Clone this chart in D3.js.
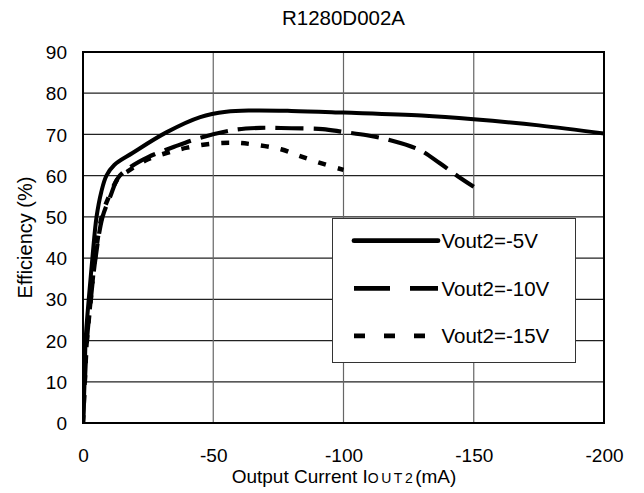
<!DOCTYPE html>
<html>
<head>
<meta charset="utf-8">
<script src="https://cdn.jsdelivr.net/npm/d3@7"></script>
<style>
  html, body { margin: 0; padding: 0; background: #fff; }
  svg { display: block; font-family: "Liberation Sans", Arial, sans-serif; }
</style>
</head>
<body>
<svg id="chart" width="644" height="493"></svg>
<script>
// ---- data ----
const chartTitle = "R1280D002A";
const xTickValues = [0, -50, -100, -150, -200];
const xTickLabels = ["0", "-50", "-100", "-150", "-200"];
const yTickValues = [0, 10, 20, 30, 40, 50, 60, 70, 80, 90];
const yTickLabels = ["0", "10", "20", "30", "40", "50", "60", "70", "80", "90"];
const seriesNames = ["Vout2=-5V", "Vout2=-10V", "Vout2=-15V"];

// output current (mA) and efficiency (%)
const current5V = [0, -0.6, -1.0, -2.2, -3.6, -5.2, -7, -9, -12, -19, -32, -45, -55, -65, -80, -100, -130, -150, -175, -200];
const eff5V     = [0, 10, 20, 30, 40, 50, 56, 60, 62.6, 65.5, 70.5, 74.2, 75.5, 75.8, 75.7, 75.3, 74.6, 73.7, 72.2, 70.2];

const current10V = [0, -0.7, -1.5, -3, -4.8, -7.5, -10.5, -13.5, -18, -25, -35, -45, -58, -68, -80, -92, -100, -109, -118, -129, -137, -144, -150];
const eff10V     = [0, 10, 20, 30, 40, 50, 55, 59.5, 62, 64.5, 67, 69.2, 71.1, 71.6, 71.5, 71.3, 70.6, 69.8, 68.6, 66.3, 63, 59.8, 57.3];

const current15V = [0, -0.7, -1.5, -3, -4.6, -7.2, -10, -14, -17, -21, -25, -32, -40, -50, -58, -65, -76, -83, -91, -100];
const eff15V     = [0, 10, 20, 30, 40, 50, 55, 59.8, 61, 62.6, 64, 65.5, 66.8, 67.8, 68, 67.6, 66.4, 64.8, 63.1, 61.4];

// ---- layout ----
const svg = d3.select("#chart");
const plot = { left: 83, right: 604, top: 52, bottom: 423 };

const x = d3.scaleLinear().domain([0, -200]).range([plot.left, plot.right]);
const y = d3.scaleLinear().domain([0, 90]).range([plot.bottom, plot.top]);

// gridlines
const grid = svg.append("g");
grid.selectAll("line.h").data(yTickValues.filter(v => v > 0 && v < 90)).enter()
  .append("line").attr("class", "h")
  .attr("x1", plot.left).attr("x2", plot.right)
  .attr("y1", d => y(d)).attr("y2", d => y(d))
  .attr("stroke", "#222").attr("stroke-width", 1.2);
grid.selectAll("line.v").data(xTickValues.filter(v => v !== 0 && v !== -200)).enter()
  .append("line").attr("class", "v")
  .attr("y1", plot.top).attr("y2", plot.bottom)
  .attr("x1", d => x(d)).attr("x2", d => x(d))
  .attr("stroke", "#666").attr("stroke-width", 1.2);

// axes
const xAxis = svg.append("g")
  .attr("transform", `translate(0,${plot.bottom})`)
  .call(d3.axisBottom(x).tickValues(xTickValues).tickSize(0)
        .tickFormat((d, i) => xTickLabels[i]));
xAxis.select(".domain").remove();
xAxis.selectAll("text")
  .attr("y", 38.5).attr("dy", 0)
  .attr("fill", "#000").style("font-size", "19px")
  .style("font-family", "Liberation Sans, Arial, sans-serif");

const yAxis = svg.append("g")
  .attr("transform", `translate(${plot.left},0)`)
  .call(d3.axisLeft(y).tickValues(yTickValues).tickSize(0).tickPadding(16)
        .tickFormat((d, i) => yTickLabels[i]));
yAxis.select(".domain").remove();
yAxis.selectAll("text")
  .attr("dy", "0.35em")
  .attr("fill", "#000").style("font-size", "19px")
  .style("font-family", "Liberation Sans, Arial, sans-serif");

// plot border
svg.append("rect")
  .attr("x", plot.left).attr("y", plot.top)
  .attr("width", plot.right - plot.left).attr("height", plot.bottom - plot.top)
  .attr("fill", "none").attr("stroke", "#000").attr("stroke-width", 2);

// series
const line = d3.line()
  .x(d => x(d[0])).y(d => y(d[1]))
  .curve(d3.curveCatmullRom.alpha(0.5));

const series = [
  { cur: current5V,  eff: eff5V,  dash: null,   width: 4 },
  { cur: current10V, eff: eff10V, dash: "28,10", width: 4.2 },
  { cur: current15V, eff: eff15V, dash: "8,12",  width: 4.5 }
];

const clip = svg.append("clipPath").attr("id", "plotclip")
  .append("rect").attr("x", plot.left).attr("y", plot.top)
  .attr("width", plot.right - plot.left).attr("height", plot.bottom - plot.top);

const lines = svg.append("g").attr("clip-path", "url(#plotclip)");
series.slice().reverse().forEach(s => {
  const pts = s.cur.map((c, i) => [c, s.eff[i]]);
  lines.append("path")
    .attr("d", line(pts))
    .attr("fill", "none")
    .attr("stroke", "#000")
    .attr("stroke-width", s.width)
    .attr("stroke-dasharray", s.dash)
    .attr("stroke-linejoin", "round")
    .attr("stroke-linecap", s.dash ? "butt" : "round");
});

// legend
const legend = svg.append("g");
legend.append("rect")
  .attr("x", 332.5).attr("y", 218.5).attr("width", 243).attr("height", 144)
  .attr("fill", "#fff").attr("stroke", "#333").attr("stroke-width", 1);
const legendDash = [null, "36,20", "11,19"];
const legendEnd = [438, 438, 426];
seriesNames.forEach((name, i) => {
  const ly = 240.7 + i * 47.6;
  legend.append("line")
    .attr("x1", 354).attr("x2", legendEnd[i])
    .attr("y1", ly).attr("y2", ly)
    .attr("stroke", "#000").attr("stroke-width", 4.8)
    .attr("stroke-dasharray", legendDash[i])
    .attr("stroke-linecap", i === 0 ? "round" : "butt");
  legend.append("text")
    .attr("x", 441.5).attr("y", ly + 7.5)
    .style("font-size", "20.5px")
    .text(name);
});

// title
svg.append("text")
  .attr("x", 343.5).attr("y", 25)
  .attr("text-anchor", "middle")
  .style("font-size", "20.5px")
  .text(chartTitle);

// axis titles
const xt = svg.append("text")
  .attr("x", 344).attr("y", 483)
  .attr("text-anchor", "middle")
  .style("font-size", "19px");
xt.append("tspan").text("Output Current I");
xt.append("tspan").style("font-size", "14px").attr("letter-spacing", "2.5px").text("OUT2");
xt.append("tspan").text("(mA)");

svg.append("text")
  .attr("transform", `translate(31.5,${(plot.top + plot.bottom) / 2}) rotate(-90)`)
  .attr("text-anchor", "middle")
  .style("font-size", "20px")
  .text("Efficiency (%)");
</script>
</body>
</html>
